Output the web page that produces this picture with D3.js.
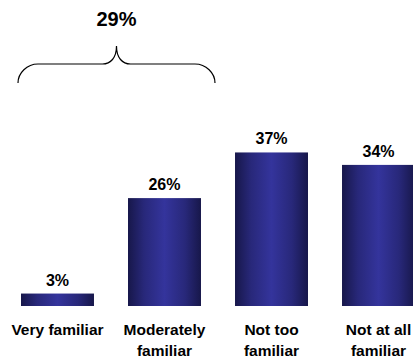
<!DOCTYPE html>
<html>
<head>
<meta charset="utf-8">
<script src="https://cdn.jsdelivr.net/npm/d3@7"></script>
<style>
  html, body { margin: 0; padding: 0; background: #fff; }
  svg { display: block; font-family: Arial, "Liberation Sans", Helvetica, sans-serif; }
</style>
</head>
<body>
<svg id="chart" width="413" height="360"></svg>
<script>
// Familiarity categories (each label split into its display lines)
const categories = ["Very familiar", "Moderately familiar", "Not too familiar", "Not at all familiar"];
const categoryLines = [["Very familiar"], ["Moderately", "familiar"], ["Not too", "familiar"], ["Not at all", "familiar"]];
const values = [3, 26, 37, 34];
const valueLabels = ["3%", "26%", "37%", "34%"];
// Combined share of the first two groups, shown above the brace
const groupLabel = "29%";
const groupSpan = ["Very familiar", "Moderately familiar"];

const svg = d3.select("#chart");
const baseY = 306;

const x = d3.scaleBand()
  .domain(categories)
  .range([21, 415])
  .paddingInner(0.318)
  .paddingOuter(0);

const y = d3.scaleLinear()
  .domain([0, 40])
  .range([baseY, baseY - 166]);

// Horizontal shading: dark edges, lighter centre
const defs = svg.append("defs");
const grad = defs.append("linearGradient")
  .attr("id", "barGrad")
  .attr("x1", "0%").attr("x2", "100%")
  .attr("y1", "0%").attr("y2", "0%");
[
  [0, "#17174a"],
  [0.22, "#28287a"],
  [0.5, "#34349c"],
  [0.78, "#28287a"],
  [1, "#17174a"]
].forEach(([o, c]) => grad.append("stop").attr("offset", o).attr("stop-color", c));

// Bars
svg.append("g").selectAll("rect")
  .data(categories)
  .join("rect")
  .attr("x", d => x(d))
  .attr("width", x.bandwidth())
  .attr("y", (d, i) => y(values[i]))
  .attr("height", (d, i) => y(0) - y(values[i]))
  .attr("fill", "url(#barGrad)");

// Value labels
svg.append("g").selectAll("text")
  .data(categories)
  .join("text")
  .attr("x", d => x(d) + x.bandwidth() / 2)
  .attr("y", (d, i) => y(values[i]) - 8)
  .attr("text-anchor", "middle")
  .attr("font-size", 16)
  .attr("font-weight", "bold")
  .attr("fill", "#000")
  .text((d, i) => valueLabels[i]);

// Category labels under the bars
const catG = svg.append("g");
categories.forEach((c, i) => {
  const t = catG.append("text")
    .attr("x", x(c) + x.bandwidth() / 2)
    .attr("y", 335)
    .attr("text-anchor", "middle")
    .attr("font-size", 15.5)
    .attr("font-weight", "bold")
    .attr("fill", "#000");
  categoryLines[i].forEach((line, j) => {
    t.append("tspan")
      .attr("x", x(c) + x.bandwidth() / 2)
      .attr("dy", j === 0 ? 0 : 21)
      .text(line);
  });
});

// Curly brace grouping the first two categories
const bx0 = x(groupSpan[0]) - 3;
const bx1 = x(groupSpan[1]) + x.bandwidth() + 14;
const bm = (bx0 + bx1) / 2;
const yEnd = 83, yMid = 64, yTip = 46;
const r = 20;
const brace = d3.path();
brace.moveTo(bx0, yEnd);
brace.bezierCurveTo(bx0, yMid + 9, bx0 + 9, yMid, bx0 + r, yMid);
brace.lineTo(bm - 14, yMid);
brace.bezierCurveTo(bm - 6, yMid, bm, yMid - 6, bm, yTip);
brace.bezierCurveTo(bm, yMid - 6, bm + 6, yMid, bm + 14, yMid);
brace.lineTo(bx1 - r, yMid);
brace.bezierCurveTo(bx1 - 9, yMid, bx1, yMid + 9, bx1, yEnd);
svg.append("path")
  .attr("d", brace.toString())
  .attr("fill", "none")
  .attr("stroke", "#000")
  .attr("stroke-width", 1.2);

svg.append("text")
  .attr("x", bm)
  .attr("y", 26)
  .attr("text-anchor", "middle")
  .attr("font-size", 20)
  .attr("font-weight", "bold")
  .attr("fill", "#000")
  .text(groupLabel);
</script>
</body>
</html>
